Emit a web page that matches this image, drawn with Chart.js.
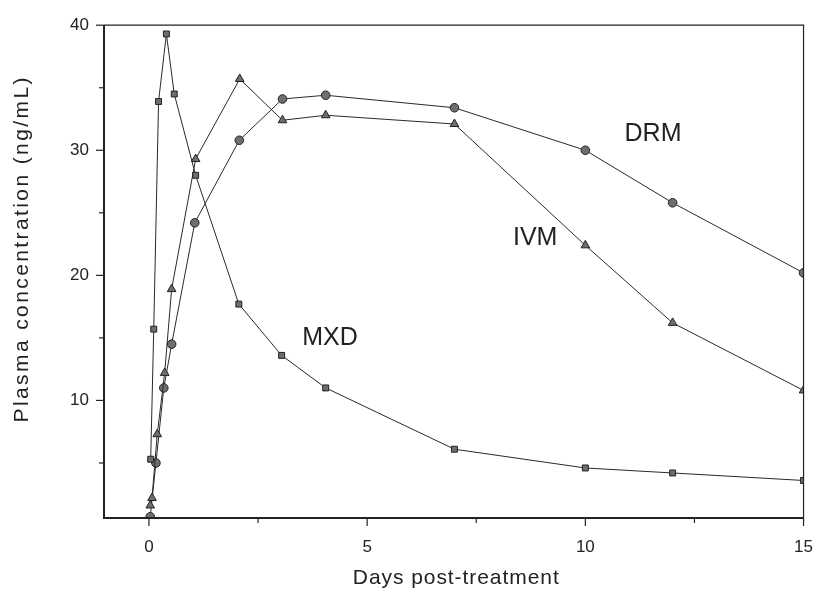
<!DOCTYPE html>
<html>
<head>
<meta charset="utf-8">
<script src="https://cdn.jsdelivr.net/npm/chart.js@4/dist/chart.umd.min.js"></script>
<style>
  html, body { margin: 0; padding: 0; background: #fff; overflow: hidden; }
  #pkChart { display: block; }
</style>
</head>
<body>
<canvas id="pkChart" width="832" height="591"></canvas>
<script>
// values (days, ng/mL)
const mxdDays = [0.04, 0.11, 0.22, 0.4, 0.58, 1.07, 2.06, 3.04, 4.05, 7, 10, 12, 15];
const mxdConc = [5.3, 15.7, 33.9, 39.3, 34.5, 28.0, 17.7, 13.6, 11.0, 6.1, 4.6, 4.2, 3.6];

const ivmDays = [0.03, 0.07, 0.19, 0.36, 0.52, 1.07, 2.08, 3.06, 4.05, 7, 10, 12, 15];
const ivmConc = [1.6, 2.2, 7.3, 12.2, 18.9, 29.3, 35.7, 32.4, 32.8, 32.1, 22.4, 16.2, 10.8];

const drmDays = [0.03, 0.16, 0.34, 0.52, 1.05, 2.07, 3.06, 4.05, 7, 10, 12, 15];
const drmConc = [0.7, 5.0, 11.0, 14.5, 24.2, 30.8, 34.1, 34.4, 33.4, 30.0, 25.8, 20.2];

const xTickValues = [0, 2.5, 5, 7.5, 10, 12.5, 15];
const yTickValues = [5, 10, 15, 20, 25, 30, 35, 40];

// series names written inside the plot, anchored in data units
const seriesLabels = [
  { text: "DRM", x: 11.55, y: 31.3 },
  { text: "IVM", x: 8.85, y: 23.0 },
  { text: "MXD", x: 4.15, y: 15.0 }
];

const xTitle = "Days post-treatment";
const yTitle = "Plasma concentration (ng/mL)";

function toPoints(days, conc) {
  return days.map((d, i) => ({ x: d, y: conc[i] }));
}

const ink = "#222";
const markerFill = "#6e6e6e";
const fontFamily = "'Liberation Sans', Arial, sans-serif";

function series(label, days, conc, style, size) {
  return {
    label: label,
    data: toPoints(days, conc),
    showLine: true,
    borderColor: "#2a2a2a",
    borderWidth: 1,
    pointStyle: style,
    pointRadius: size,
    pointBackgroundColor: markerFill,
    pointBorderColor: ink,
    pointBorderWidth: 1
  };
}

// draw text stretched with letter spacing to a given width
function spacedText(ctx, text, x, y, width) {
  const natural = ctx.measureText(text).width;
  const gap = Math.max(0, (width - natural) / (text.length - 1));
  ctx.letterSpacing = gap.toFixed(2) + "px";
  ctx.fillText(text, x + gap / 2, y);
  ctx.letterSpacing = "0px";
}

// frame, tick marks, axis titles and in-plot labels
const decorations = {
  id: "decorations",
  afterDraw(chart) {
    const { ctx, chartArea: a, scales } = chart;
    const xs = scales.x, ys = scales.y;
    ctx.save();
    ctx.strokeStyle = ink;
    ctx.lineWidth = 1.2;
    ctx.beginPath();
    ctx.moveTo(a.left, a.top);
    ctx.lineTo(a.right, a.top);
    ctx.lineTo(a.right, a.bottom);
    ctx.stroke();
    ctx.lineWidth = 2;
    ctx.beginPath();
    ctx.moveTo(a.left, a.top);
    ctx.lineTo(a.left, a.bottom);
    ctx.lineTo(a.right, a.bottom);
    ctx.stroke();

    ctx.lineWidth = 1.2;
    xTickValues.forEach(v => {
      const px = xs.getPixelForValue(v);
      const len = v % 5 === 0 ? 8 : 5;
      ctx.beginPath();
      ctx.moveTo(px, a.bottom);
      ctx.lineTo(px, a.bottom + len);
      ctx.stroke();
    });
    yTickValues.forEach(v => {
      const py = ys.getPixelForValue(v);
      const len = v % 10 === 0 ? 8 : 5;
      ctx.beginPath();
      ctx.moveTo(a.left, py);
      ctx.lineTo(a.left - len, py);
      ctx.stroke();
    });

    ctx.fillStyle = ink;
    ctx.textAlign = "center";
    ctx.textBaseline = "middle";
    ctx.font = "21px " + fontFamily;
    spacedText(ctx, xTitle, (a.left + a.right) / 2 + 2, 578, 206);

    ctx.save();
    ctx.translate(22, 250);
    ctx.rotate(-Math.PI / 2);
    ctx.font = "21px " + fontFamily;
    spacedText(ctx, yTitle, 0, 0, 345);
    ctx.restore();

    ctx.font = "25px " + fontFamily;
    seriesLabels.forEach(l => {
      ctx.fillText(l.text, xs.getPixelForValue(l.x), ys.getPixelForValue(l.y));
    });
    ctx.restore();
  }
};

const ctx = document.getElementById("pkChart").getContext("2d");
new Chart(ctx, {
  type: "scatter",
  data: {
    datasets: [
      series("MXD", mxdDays, mxdConc, "rect", 4.2),
      series("IVM", ivmDays, ivmConc, "triangle", 5),
      series("DRM", drmDays, drmConc, "circle", 4.3)
    ]
  },
  options: {
    responsive: false,
    animation: false,
    devicePixelRatio: 1,
    layout: { padding: { left: 0, top: 20, right: 13, bottom: 0 } },
    plugins: {
      legend: { display: false },
      tooltip: { enabled: false }
    },
    scales: {
      x: {
        type: "linear",
        min: -1.03,
        max: 15,
        afterBuildTicks: s => { s.ticks = xTickValues.map(v => ({ value: v })); },
        afterFit: s => { s.height = 73; },
        grid: { display: false, drawTicks: false },
        border: { display: false },
        ticks: {
          autoSkip: false,
          maxRotation: 0,
          padding: 19,
          color: ink,
          font: { family: fontFamily, size: 17 },
          callback: v => (v % 5 === 0 ? String(v) : "")
        }
      },
      y: {
        type: "linear",
        min: 0.6,
        max: 40,
        afterBuildTicks: s => { s.ticks = yTickValues.map(v => ({ value: v })); },
        afterFit: s => { s.width = 104; },
        grid: { display: false, drawTicks: false },
        border: { display: false },
        ticks: {
          autoSkip: false,
          padding: 15,
          color: ink,
          font: { family: fontFamily, size: 17 },
          callback: v => (v % 10 === 0 ? String(v) : "")
        }
      }
    }
  },
  plugins: [decorations]
});
</script>
</body>
</html>
